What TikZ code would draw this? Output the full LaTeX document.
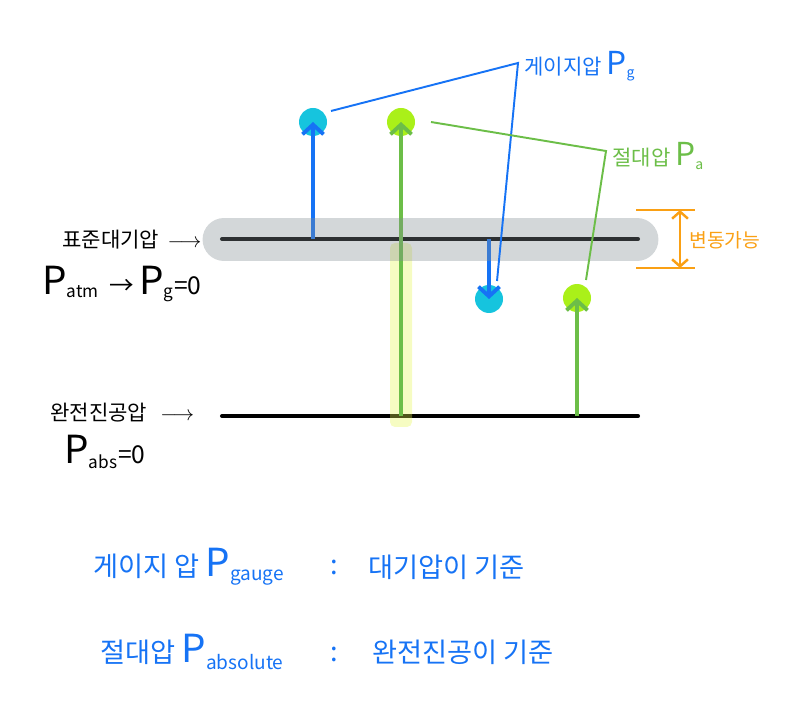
\documentclass[tikz,border=0pt]{standalone}
\usepackage{fontspec}
\setmainfont{Noto Sans CJK KR}
\usetikzlibrary{arrows.meta}

\definecolor{gaugeblue}{RGB}{22,115,245}
\definecolor{gaugeball}{RGB}{22,196,222}
\definecolor{absgreen}{RGB}{108,190,72}
\definecolor{absball}{RGB}{170,240,25}
\definecolor{bandgray}{RGB}{130,140,145}
\definecolor{bandyellow}{RGB}{230,245,80}
\definecolor{varorange}{RGB}{250,160,20}

% P with a subscript; #1 is the size of the P
\newcommand{\pres}[2]{{\fontsize{#1}{#1}\selectfont P}\textsubscript{#2}}

\begin{document}
\begin{tikzpicture}[x=0.02cm,y=-0.02cm,
    level/.style={line width=2.3pt,line cap=round},
    gaugearrow/.style={gaugeblue,line width=2.4pt,-{Straight Barb[length=5.5pt,width=12pt,line width=2.2pt]}},
    absarrow/.style={absgreen,line width=2.4pt,-{Straight Barb[length=5.5pt,width=12pt,line width=2.2pt]}},
    gaugedot/.style={circle,fill=gaugeball,minimum size=0.56cm,inner sep=0pt},
    absdot/.style={circle,fill=absball,minimum size=0.56cm,inner sep=0pt},
    gaugeline/.style={gaugeblue,line width=1.1pt},
    absline/.style={absgreen,line width=1.1pt},
    dimline/.style={varorange,line width=1.4pt},
    hand/.style={anchor=west,inner sep=0pt,font=\fontsize{12}{14}\selectfont},
    note/.style={anchor=west,inner sep=0pt,gaugeblue,font=\fontsize{15.5}{18}\selectfont}]
    \useasboundingbox (0,0) rectangle (800,715);

    % pressure levels
    \coordinate (atmL) at (222,239);
    \coordinate (atmR) at (638,239);
    \coordinate (vacL) at (222,416);
    \coordinate (vacR) at (638,416);
    \draw[level] (atmL) -- (atmR);
    \draw[level] (vacL) -- (vacR);
    \fill[bandyellow,opacity=0.35,rounded corners=0.1cm] (390,243) rectangle (412,427);

    % pressure points
    \node[gaugedot] (gup) at (313,122) {};
    \node[gaugedot] (gdown) at (489,299) {};
    \node[absdot] (aup) at (401,122) {};
    \node[absdot] (alow) at (577,298) {};

    % arrows from the levels
    \draw[gaugearrow] (gup |- atmL) -- (gup.center);
    \draw[gaugearrow] (gdown |- atmL) -- (gdown.center);
    \draw[absarrow] (aup |- vacL) -- (aup.center);
    \draw[absarrow] (alow |- vacL) -- (alow.center);

    % atmosphere band
    \draw[bandgray,opacity=0.35,line width=24.4pt,line cap=round] (224,239.5) -- (637,239.5);

    % gauge pressure label
    \node[note,font=\fontsize{12}{14}\selectfont] (glabel) at (524,66) {게이지압 \pres{18}{g}};
    \coordinate (gstart) at (331,111);
    \coordinate (gcorner) at (518,63);
    \coordinate (gend) at (497,281);
    \draw[gaugeline] (gstart) -- (gcorner) -- (gend);

    % absolute pressure label
    \node[note,absgreen,font=\fontsize{12}{14}\selectfont] (alabel) at (612,156) {절대압 \pres{18}{a}};
    \coordinate (astart) at (431,122);
    \coordinate (acorner) at (606,151);
    \coordinate (aend) at (586,280);
    \draw[absline] (astart) -- (acorner) -- (aend);

    % variation
    \coordinate (dimtop) at (680,210);
    \coordinate (dimbot) at (680,268);
    \draw[dimline] (636,210) -- (695,210);
    \draw[dimline] (636,268) -- (695,268);
    \draw[dimline,{Straight Barb[length=4pt,width=9pt]}-{Straight Barb[length=4pt,width=9pt]}] (dimtop) -- (dimbot);
    \node[hand,varorange,font=\fontsize{11}{13}\selectfont] (varlabel) at (689,240) {변동가능};

    % left labels
    \node[hand] (atmlabel) at (62,240) {표준대기압 \,$\longrightarrow$};
    \node[hand,font=\fontsize{14}{16}\selectfont] (atmeq) at (42,284) {\pres{22}{atm} \,→ \pres{22}{g}=0};
    \node[hand] (vaclabel) at (50,413) {완전진공압 \ \,$\longrightarrow$};
    \node[hand,font=\fontsize{14}{16}\selectfont] (vaceq) at (64,452) {\pres{22}{abs}=0};

    % definitions
    \node[note] (gdef) at (93,567) {게이지 압 \pres{22}{gauge}};
    \node[note] (gcolon) at (330,567) {:};
    \node[note] (gbase) at (368,567) {대기압이 기준};
    \node[note] (adef) at (100,652) {절대압 \pres{22}{absolute}};
    \node[note] (acolon) at (330,654) {:};
    \node[note] (abase) at (372,652) {완전진공이 기준};
  \end{tikzpicture}
\end{document}
